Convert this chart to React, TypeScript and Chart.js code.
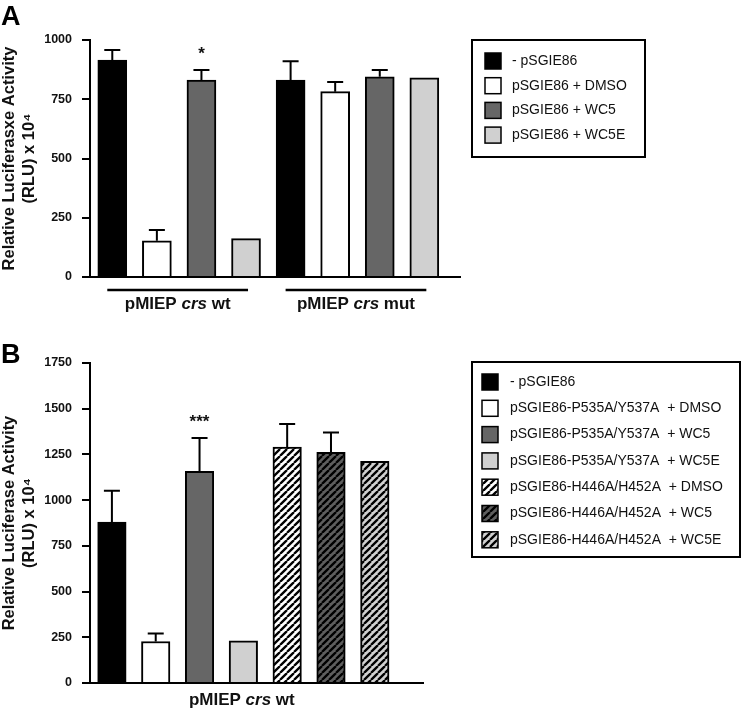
import React, { useEffect, useRef } from 'react';
import { Chart, registerables } from 'chart.js';

Chart.register(...registerables);

const FONT = '"Liberation Sans", Arial, Helvetica, sans-serif';

// ---------------- Panel A data ----------------
const aBarNames = [
  'wt: - pSGIE86', 'wt: pSGIE86 + DMSO', 'wt: pSGIE86 + WC5', 'wt: pSGIE86 + WC5E',
  'mut: - pSGIE86', 'mut: pSGIE86 + DMSO', 'mut: pSGIE86 + WC5', 'mut: pSGIE86 + WC5E',
];
const aSeriesOfBar = [0, 1, 2, 3, 0, 1, 2, 3];
const aMeans = [915, 153, 831, 162, 831, 782, 845, 840];
const aErrors = [43, 45, 42, 0, 79, 41, 28, 0];
const aStars = ['', '', '*', '', '', '', '', ''];
const aLegendLabels = ['- pSGIE86', 'pSGIE86 + DMSO', 'pSGIE86 + WC5', 'pSGIE86 + WC5E'];
const aGroupLabels = ['pMIEP crs wt', 'pMIEP crs mut'];
const aGroupBars = [[0, 3], [4, 7]];
const aYTicks = [0, 250, 500, 750, 1000];
const aYTitle = ['Relative Luciferasxe Activity', '(RLU) x 10⁴'];

// ---------------- Panel B data ----------------
const bBarNames = [
  '- pSGIE86', 'P535A/Y537A + DMSO', 'P535A/Y537A + WC5', 'P535A/Y537A + WC5E',
  'H446A/H452A + DMSO', 'H446A/H452A + WC5', 'H446A/H452A + WC5E',
];
const bSeriesOfBar = [0, 1, 2, 3, 4, 5, 6];
const bMeans = [880, 227, 1157, 231, 1290, 1261, 1212];
const bErrors = [171, 44, 183, 0, 126, 109, 0];
const bStars = ['', '', '***', '', '', '', ''];
const bLegendLabels = [
  '- pSGIE86',
  'pSGIE86-P535A/Y537A  + DMSO',
  'pSGIE86-P535A/Y537A  + WC5',
  'pSGIE86-P535A/Y537A  + WC5E',
  'pSGIE86-H446A/H452A  + DMSO',
  'pSGIE86-H446A/H452A  + WC5',
  'pSGIE86-H446A/H452A  + WC5E',
];
const bGroupLabels = ['pMIEP crs wt'];
const bGroupBars = [[0, 6]];
const bYTicks = [0, 250, 500, 750, 1000, 1250, 1500, 1750];
const bYTitle = ['Relative Luciferase Activity', '(RLU) x 10⁴'];

const ITALIC_WORD = 'crs';

type Fill = { color: string; hatch: boolean };

const aFills: Fill[] = [
  { color: '#000000', hatch: false },
  { color: '#ffffff', hatch: false },
  { color: '#666666', hatch: false },
  { color: '#d0d0d0', hatch: false },
];
const bFills: Fill[] = [
  { color: '#000000', hatch: false },
  { color: '#ffffff', hatch: false },
  { color: '#666666', hatch: false },
  { color: '#d0d0d0', hatch: false },
  { color: '#ffffff', hatch: true },
  { color: '#5e5e5e', hatch: true },
  { color: '#d0d0d0', hatch: true },
];

interface PanelCfg {
  letter: string;
  names: string[];
  series: number[];
  means: number[];
  errors: number[];
  stars: string[];
  legend: string[];
  groups: string[];
  groupBars: number[][];
  yTicks: number[];
  yTitle: string[];
  fills: Fill[];
  height: number;
  padTop: number;
  padRight: number;
  xAxisHeight: number;
  xMin: number;
  xMax: number;
  barWidth: number;
  letterBaseline: number;
  legendBox: { x: number; y: number; w: number; h: number };
  legendFirst: number;
  legendStep: number;
  swatchX: number;
  textX: number;
  groupLineY: number | null;
  groupTextY: number;
}

const panelA: PanelCfg = {
  letter: 'A',
  names: aBarNames,
  series: aSeriesOfBar,
  means: aMeans,
  errors: aErrors,
  stars: aStars,
  legend: aLegendLabels,
  groups: aGroupLabels,
  groupBars: aGroupBars,
  yTicks: aYTicks,
  yTitle: aYTitle,
  fills: aFills,
  height: 330,
  padTop: 40,
  padRight: 282,
  xAxisHeight: 53,
  xMin: 0.5,
  xMax: 8.8,
  barWidth: 29,
  letterBaseline: 25,
  legendBox: { x: 472, y: 40, w: 173, h: 117 },
  legendFirst: 61,
  legendStep: 24.7,
  swatchX: 485,
  textX: 512,
  groupLineY: 290,
  groupTextY: 309,
};

const panelB: PanelCfg = {
  letter: 'B',
  names: bBarNames,
  series: bSeriesOfBar,
  means: bMeans,
  errors: bErrors,
  stars: bStars,
  legend: bLegendLabels,
  groups: bGroupLabels,
  groupBars: bGroupBars,
  yTicks: bYTicks,
  yTitle: bYTitle,
  fills: bFills,
  height: 381,
  padTop: 33,
  padRight: 319,
  xAxisHeight: 28,
  xMin: 0.5,
  xMax: 8.1,
  barWidth: 28.5,
  letterBaseline: 33,
  legendBox: { x: 472, y: 32, w: 268, h: 195 },
  legendFirst: 52,
  legendStep: 26.3,
  swatchX: 482,
  textX: 510,
  groupLineY: null,
  groupTextY: 375,
};

function makeFill(ctx: CanvasRenderingContext2D, f: Fill): string | CanvasPattern {
  if (!f.hatch) return f.color;
  const p = 7;
  const tile = document.createElement('canvas');
  tile.width = p;
  tile.height = p;
  const g = tile.getContext('2d')!;
  g.fillStyle = f.color;
  g.fillRect(0, 0, p, p);
  g.strokeStyle = '#000';
  g.lineWidth = 2.3;
  g.beginPath();
  for (const k of [-1, 0, 1]) {
    g.moveTo(k * p, p);
    g.lineTo(k * p + p, 0);
  }
  g.stroke();
  return ctx.createPattern(tile, 'repeat')!;
}

function makeOverlay(cfg: PanelCfg, fills: (string | CanvasPattern)[]) {
  return {
    id: 'overlay' + cfg.letter,
    afterDatasetsDraw(chart: any) {
      const ctx: CanvasRenderingContext2D = chart.ctx;
      const meta = chart.getDatasetMeta(0);
      const y = chart.scales.y;
      ctx.save();
      ctx.strokeStyle = '#000';
      ctx.lineWidth = 2;
      meta.data.forEach((bar: any, i: number) => {
        const x = bar.x;
        const err = cfg.errors[i];
        const top = y.getPixelForValue(cfg.means[i]);
        const et = y.getPixelForValue(cfg.means[i] + err);
        if (err) {
          ctx.beginPath();
          ctx.moveTo(x, top);
          ctx.lineTo(x, et);
          ctx.moveTo(x - 8, et);
          ctx.lineTo(x + 8, et);
          ctx.stroke();
        }
        if (cfg.stars[i]) {
          ctx.fillStyle = '#111';
          ctx.font = `bold 17px ${FONT}`;
          ctx.textAlign = 'center';
          ctx.textBaseline = 'alphabetic';
          ctx.fillText(cfg.stars[i], x, et - 11);
        }
      });
      ctx.restore();
    },
    afterDraw(chart: any) {
      const ctx: CanvasRenderingContext2D = chart.ctx;
      const meta = chart.getDatasetMeta(0);
      ctx.save();
      // panel letter
      ctx.fillStyle = '#000';
      ctx.font = `bold 27px ${FONT}`;
      ctx.textAlign = 'left';
      ctx.textBaseline = 'alphabetic';
      ctx.fillText(cfg.letter, 1, cfg.letterBaseline);

      // group lines and labels
      cfg.groups.forEach((label, gi) => {
        const [a, b] = cfg.groupBars[gi];
        const xa = meta.data[a].x;
        const xb = meta.data[b].x;
        const x0 = xa - 5;
        const x1 = xb + 2;
        if (cfg.groupLineY !== null) {
          ctx.strokeStyle = '#000';
          ctx.lineWidth = 2.5;
          ctx.beginPath();
          ctx.moveTo(x0, cfg.groupLineY);
          ctx.lineTo(x1, cfg.groupLineY);
          ctx.stroke();
        }
        const words = label.split(' ');
        const parts = words.map((w, wi) => ({
          text: wi < words.length - 1 ? w + ' ' : w,
          italic: w === ITALIC_WORD,
        }));
        const fontFor = (it: boolean) => `${it ? 'italic ' : ''}bold 17px ${FONT}`;
        let total = 0;
        parts.forEach((p) => {
          ctx.font = fontFor(p.italic);
          total += ctx.measureText(p.text).width;
        });
        let cx = (x0 + x1) / 2 - total / 2;
        ctx.fillStyle = '#111';
        ctx.textAlign = 'left';
        parts.forEach((p) => {
          ctx.font = fontFor(p.italic);
          ctx.fillText(p.text, cx, cfg.groupTextY);
          cx += ctx.measureText(p.text).width;
        });
      });

      // legend box
      const lb = cfg.legendBox;
      ctx.strokeStyle = '#000';
      ctx.lineWidth = 2;
      ctx.strokeRect(lb.x, lb.y, lb.w, lb.h);
      ctx.font = `14px ${FONT}`;
      ctx.textBaseline = 'middle';
      ctx.textAlign = 'left';
      cfg.legend.forEach((label, i) => {
        const cy = cfg.legendFirst + i * cfg.legendStep;
        ctx.fillStyle = fills[i] as any;
        ctx.fillRect(cfg.swatchX, cy - 8, 16, 16);
        ctx.lineWidth = 1.5;
        ctx.strokeStyle = '#000';
        ctx.strokeRect(cfg.swatchX, cy - 8, 16, 16);
        ctx.fillStyle = '#111';
        ctx.fillText(label, cfg.textX, cy);
      });
      ctx.restore();
    },
  };
}

function buildChart(canvas: HTMLCanvasElement, cfg: PanelCfg) {
  const ctx = canvas.getContext('2d')!;
  const fills = cfg.fills.map((f) => makeFill(ctx, f));
  const data = cfg.means.map((m, i) => ({ x: i + 1, y: m }));
  return new Chart(canvas, {
    type: 'bar',
    data: {
      labels: cfg.names,
      datasets: [
        {
          label: cfg.letter,
          data: data as any,
          backgroundColor: cfg.series.map((s) => fills[s]) as any,
          borderColor: '#000',
          borderWidth: 2,
          barThickness: cfg.barWidth,
        },
      ],
    },
    options: {
      responsive: false,
      animation: false,
      events: [],
      layout: { padding: { top: cfg.padTop, right: cfg.padRight, left: 0, bottom: 0 } },
      plugins: { legend: { display: false }, tooltip: { enabled: false } },
      scales: {
        x: {
          type: 'linear',
          min: cfg.xMin,
          max: cfg.xMax,
          offset: false,
          ticks: { display: false },
          grid: { display: false },
          border: { display: true, color: '#000', width: 2 },
          afterFit: (s: any) => {
            s.height = cfg.xAxisHeight;
          },
        },
        y: {
          type: 'linear',
          min: 0,
          max: cfg.yTicks[cfg.yTicks.length - 1],
          afterBuildTicks: (s: any) => {
            s.ticks = cfg.yTicks.map((v) => ({ value: v }));
          },
          ticks: {
            font: { family: FONT, size: 12.5, weight: 'bold' },
            color: '#111',
            padding: 10,
            callback: (v: any) => String(v),
          },
          grid: {
            drawOnChartArea: false,
            drawTicks: true,
            tickLength: 8,
            color: '#000',
            lineWidth: 2,
          },
          border: { display: true, color: '#000', width: 2 },
          title: {
            display: true,
            text: cfg.yTitle,
            font: { family: FONT, size: 16.5, weight: 'bold', lineHeight: 1.2 },
            color: '#111',
            padding: { top: 0, bottom: 0 },
          },
          afterFit: (s: any) => {
            s.width = 90;
          },
        },
      },
    } as any,
    plugins: [makeOverlay(cfg, fills)],
  });
}

function Panel({ cfg }: { cfg: PanelCfg }) {
  const ref = useRef<HTMLCanvasElement | null>(null);
  useEffect(() => {
    const chart = buildChart(ref.current!, cfg);
    return () => chart.destroy();
  }, [cfg]);
  return <canvas ref={ref} width={742} height={cfg.height} style={{ display: 'block' }} />;
}

export default function App() {
  return (
    <div
      style={{
        position: 'fixed',
        left: 0,
        top: 0,
        width: 742,
        height: 711,
        background: '#fff',
      }}
    >
      <Panel cfg={panelA} />
      <Panel cfg={panelB} />
    </div>
  );
}
